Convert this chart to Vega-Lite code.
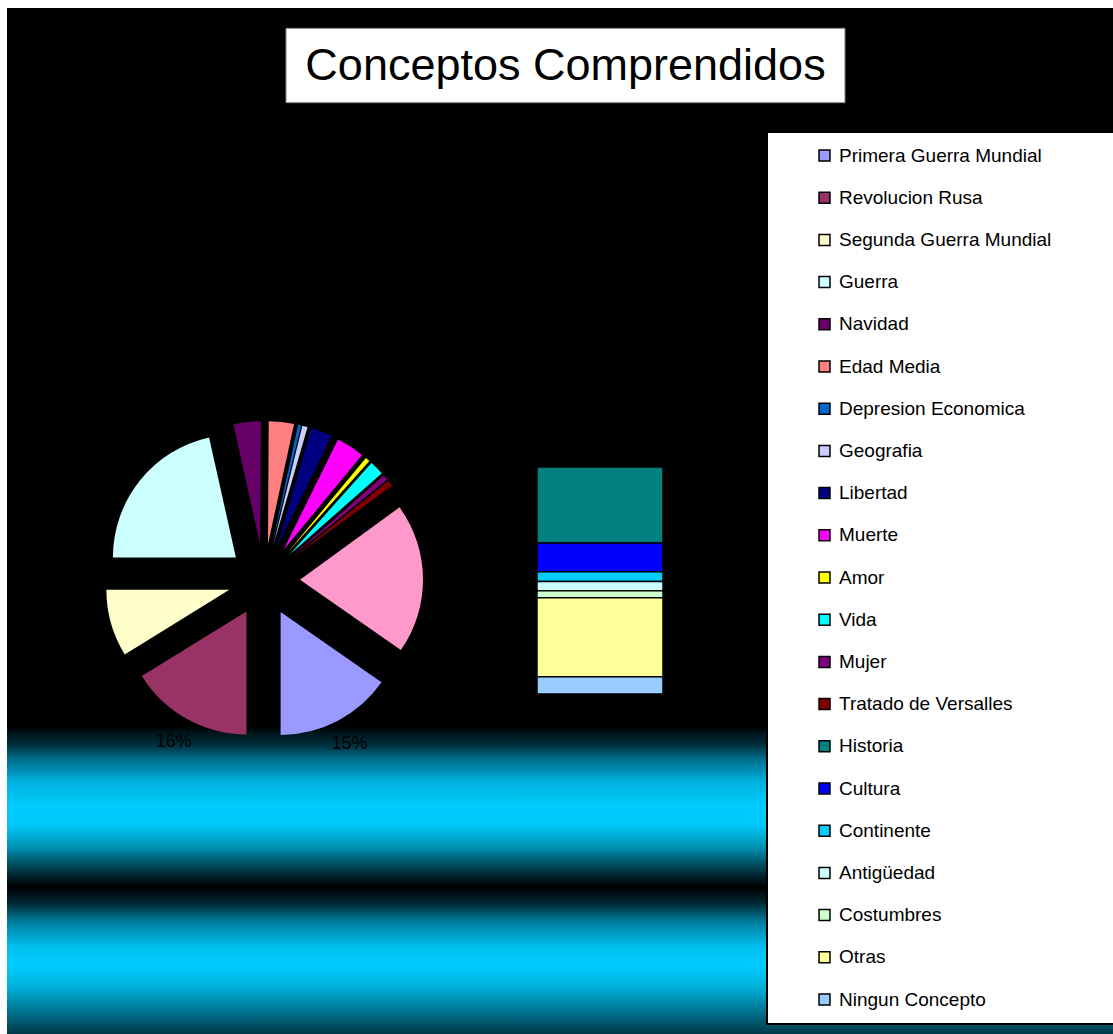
{
  "$schema": "https://vega.github.io/schema/vega-lite/v6.json",
  "background": "white",
  "padding": {"left": 7, "top": 8, "right": 0, "bottom": 0},
  "spacing": 0,
  "config": {
    "view": {"stroke": null},
    "font": "Liberation Sans",
    "legend": {
      "fillColor": "white",
      "strokeColor": "black",
      "padding": 14,
      "rowPadding": 22.2,
      "symbolType": "square",
      "symbolSize": 120,
      "symbolStrokeColor": "black",
      "symbolStrokeWidth": 1.5,
      "symbolOffset": 34,
      "labelFont": "Liberation Sans",
      "labelFontSize": 19,
      "labelColor": "black",
      "labelOffset": 5,
      "labelLimit": 400,
      "titleOrient": "right",
      "titlePadding": 60,
      "titleFontSize": 10
    }
  },
  "datasets": {
    "pastel": [
      {"nombre": "Primera Guerra Mundial", "v": 15.3, "orden": 1},
      {"nombre": "Revolucion Rusa", "v": 16.2, "orden": 2},
      {"nombre": "Segunda Guerra Mundial", "v": 8.8, "orden": 3},
      {"nombre": "Guerra", "v": 21.5, "orden": 4},
      {"nombre": "Navidad", "v": 3.6, "orden": 5},
      {"nombre": "Edad Media", "v": 3.3, "orden": 6},
      {"nombre": "Depresion Economica", "v": 0.4, "orden": 7},
      {"nombre": "Geografia", "v": 0.7, "orden": 8},
      {"nombre": "Libertad", "v": 2.8, "orden": 9},
      {"nombre": "Muerte", "v": 3.7, "orden": 10},
      {"nombre": "Amor", "v": 0.6, "orden": 11},
      {"nombre": "Vida", "v": 1.9, "orden": 12},
      {"nombre": "Mujer", "v": 0.7, "orden": 13},
      {"nombre": "Tratado de Versalles", "v": 0.8, "orden": 14},
      {"nombre": "Otros", "v": 19.7, "orden": 15}
    ],
    "barra": [
      {"nombre": "Historia", "v": 6.6, "orden": 15, "grupo": "Otros"},
      {"nombre": "Cultura", "v": 2.5, "orden": 16, "grupo": "Otros"},
      {"nombre": "Continente", "v": 0.85, "orden": 17, "grupo": "Otros"},
      {"nombre": "Antigüedad", "v": 0.8, "orden": 18, "grupo": "Otros"},
      {"nombre": "Costumbres", "v": 0.6, "orden": 19, "grupo": "Otros"},
      {"nombre": "Otras", "v": 6.85, "orden": 20, "grupo": "Otros"},
      {"nombre": "Ningun Concepto", "v": 1.5, "orden": 21, "grupo": "Otros"}
    ],
    "titulo": [
      {"titulo": "Conceptos Comprendidos"}
    ]
  },
  "resolve": {"scale": {"color": "shared"}, "legend": {"color": "shared"}},
  "vconcat": [
    {
      "width": 1106,
      "height": 118,
      "view": {"fill": "black", "stroke": null},
      "data": {"name": "titulo"},
      "encoding": {
        "x": {"field": "titulo", "type": "nominal", "axis": null, "scale": {"paddingInner": 0, "paddingOuter": 0.48927, "align": 0.51005}},
        "y": {"field": "titulo", "type": "nominal", "axis": null, "scale": {"paddingInner": 0, "paddingOuter": 0.293, "align": 0.4656}}
      },
      "layer": [
        {"mark": {"type": "rect", "fill": "white", "stroke": "#808080", "strokeWidth": 1}},
        {"mark": {"type": "text", "fontSize": 45, "color": "black", "font": "Liberation Sans"}, "encoding": {"text": {"field": "titulo"}}}
      ]
    },
    {
      "spacing": 0,
      "resolve": {"scale": {"color": "shared"}, "legend": {"color": "shared"}},
      "hconcat": [
        {
          "width": 514,
          "height": 908,
          "view": {"stroke": null, "fill": {"gradient": "linear", "x1": 0, "y1": 0, "x2": 0, "y2": 1, "stops": [
            {"offset": 0, "color": "#000000"},
            {"offset": 0.662, "color": "#000000"},
            {"offset": 0.668, "color": "#00141a"},
            {"offset": 0.682, "color": "#00303d"},
            {"offset": 0.696, "color": "#006a88"},
            {"offset": 0.722, "color": "#00b0dd"},
            {"offset": 0.742, "color": "#00c6f6"},
            {"offset": 0.751, "color": "#00ccff"},
            {"offset": 0.770, "color": "#00c8f8"},
            {"offset": 0.795, "color": "#0090b0"},
            {"offset": 0.817, "color": "#004050"},
            {"offset": 0.838, "color": "#000000"},
            {"offset": 0.855, "color": "#002530"},
            {"offset": 0.877, "color": "#0080a0"},
            {"offset": 0.905, "color": "#00c0f0"},
            {"offset": 0.924, "color": "#00ccff"},
            {"offset": 0.949, "color": "#00b0d8"},
            {"offset": 0.979, "color": "#006a85"},
            {"offset": 1, "color": "#003a48"}
          ]}},
          "data": {"name": "pastel"},
          "transform": [
            {"joinaggregate": [{"op": "sum", "field": "v", "as": "total"}]},
            {"calculate": "format(datum.v / datum.total, '.0%')", "as": "etiqueta"}
          ],
          "encoding": {
            "theta": {"field": "v", "type": "quantitative", "stack": true, "scale": {"range": [2.1803, 8.4635]}},
            "order": {"field": "orden", "type": "quantitative", "sort": "ascending"}
          },
          "layer": [
            {
              "mark": {
                "type": "arc",
                "radius": 123,
                "xOffset": {"expr": "36 * sin(2.1803 + PI * (datum.v_start + datum.v_end) / datum.total)"},
                "yOffset": {"expr": "-36 * cos(2.1803 + PI * (datum.v_start + datum.v_end) / datum.total)"}
              },
              "encoding": {
                "color": {
                  "condition": {"test": "datum.nombre === 'Otros'", "value": "#FF99CC"},
                  "field": "nombre",
                  "type": "nominal",
                  "scale": {
                    "domain": ["Primera Guerra Mundial", "Revolucion Rusa", "Segunda Guerra Mundial", "Guerra", "Navidad", "Edad Media", "Depresion Economica", "Geografia", "Libertad", "Muerte", "Amor", "Vida", "Mujer", "Tratado de Versalles", "Historia", "Cultura", "Continente", "Antigüedad", "Costumbres", "Otras", "Ningun Concepto"],
                    "range": ["#9999FF", "#993366", "#FFFFCC", "#CCFFFF", "#660066", "#FF8080", "#0066CC", "#CCCCFF", "#000080", "#FF00FF", "#FFFF00", "#00FFFF", "#800080", "#800000", "#008080", "#0000FF", "#00CCFF", "#CCFFFF", "#CCFFCC", "#FFFF99", "#99CCFF"]
                  },
                  "legend": {"orient": "none", "legendX": 760, "legendY": 124, "title": "\u00a0", "encode": {"legend": {"update": {"strokeWidth": {"value": 2}}}}}
                }
              }
            },
            {
              "transform": [{"filter": "datum.v >= 15"}],
              "mark": {"type": "text", "radius": 185, "fontSize": 18, "color": "black", "font": "Liberation Sans"},
              "encoding": {"text": {"field": "etiqueta"}}
            }
          ]
        },
        {
          "width": 592,
          "height": 908,
          "view": {"stroke": null, "fill": {"gradient": "linear", "x1": 0, "y1": 0, "x2": 0, "y2": 1, "stops": [
            {"offset": 0, "color": "#000000"},
            {"offset": 0.662, "color": "#000000"},
            {"offset": 0.668, "color": "#00141a"},
            {"offset": 0.682, "color": "#00303d"},
            {"offset": 0.696, "color": "#006a88"},
            {"offset": 0.722, "color": "#00b0dd"},
            {"offset": 0.742, "color": "#00c6f6"},
            {"offset": 0.751, "color": "#00ccff"},
            {"offset": 0.770, "color": "#00c8f8"},
            {"offset": 0.795, "color": "#0090b0"},
            {"offset": 0.817, "color": "#004050"},
            {"offset": 0.838, "color": "#000000"},
            {"offset": 0.855, "color": "#002530"},
            {"offset": 0.877, "color": "#0080a0"},
            {"offset": 0.905, "color": "#00c0f0"},
            {"offset": 0.924, "color": "#00ccff"},
            {"offset": 0.949, "color": "#00b0d8"},
            {"offset": 0.979, "color": "#006a85"},
            {"offset": 1, "color": "#003a48"}
          ]}},
          "data": {"name": "barra"},
          "mark": {"type": "bar", "stroke": "black", "strokeWidth": 1.5},
          "encoding": {
            "x": {"field": "grupo", "type": "nominal", "axis": null, "scale": {"paddingInner": 0.4592, "paddingOuter": 1, "align": 0.0343}},
            "y": {"field": "v", "type": "quantitative", "stack": true, "axis": null, "scale": {"domain": [-29.51, 49.29], "nice": false, "zero": false}},
            "order": {"field": "orden", "type": "quantitative", "sort": "descending"},
            "color": {
              "field": "nombre",
              "type": "nominal",
              "scale": {
                "domain": ["Primera Guerra Mundial", "Revolucion Rusa", "Segunda Guerra Mundial", "Guerra", "Navidad", "Edad Media", "Depresion Economica", "Geografia", "Libertad", "Muerte", "Amor", "Vida", "Mujer", "Tratado de Versalles", "Historia", "Cultura", "Continente", "Antigüedad", "Costumbres", "Otras", "Ningun Concepto"],
                "range": ["#9999FF", "#993366", "#FFFFCC", "#CCFFFF", "#660066", "#FF8080", "#0066CC", "#CCCCFF", "#000080", "#FF00FF", "#FFFF00", "#00FFFF", "#800080", "#800000", "#008080", "#0000FF", "#00CCFF", "#CCFFFF", "#CCFFCC", "#FFFF99", "#99CCFF"]
              },
              "legend": {"orient": "none", "legendX": 760, "legendY": 124, "title": "\u00a0", "encode": {"legend": {"update": {"strokeWidth": {"value": 2}}}}}
            }
          }
        }
      ]
    }
  ]
}
